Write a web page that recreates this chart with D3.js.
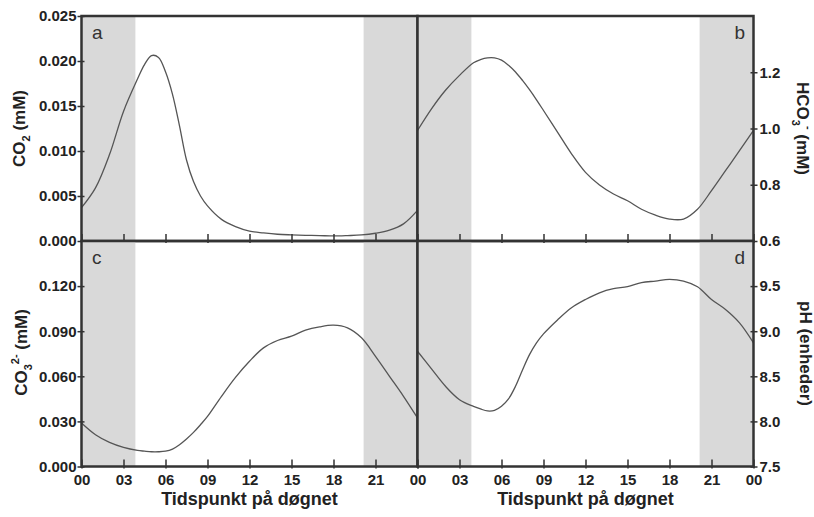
<!DOCTYPE html>
<html>
<head>
<meta charset="utf-8">
<script src="https://cdn.jsdelivr.net/npm/d3@7"></script>
<style>
  body { margin: 0; background: #fff; }
  text { font-family: "Liberation Sans", Arial, sans-serif; }
</style>
</head>
<body>
<svg id="chart" width="814" height="517"></svg>
<script>
// hours of the day the curves were read at
const hours = [0, 1, 2, 3, 4, 4.5, 5, 5.5, 6, 6.5, 7, 7.5, 8, 8.5, 9, 10, 11, 12, 13, 14, 15, 16, 17, 18, 19, 20, 21, 22, 23, 24]

const co2 = [0.0037, 0.0059, 0.0096, 0.0144, 0.0180, 0.0196, 0.0206, 0.0204, 0.0188, 0.0163, 0.0128, 0.0090,
  0.0066, 0.0050, 0.0039, 0.0024, 0.0016, 0.0011, 0.0009, 0.00075, 0.00068, 0.00063, 0.0006, 0.00056,
  0.0006, 0.00067, 0.00086, 0.0012, 0.0019, 0.0034]
const hco3 = [0.993, 1.070, 1.136, 1.189, 1.234, 1.245, 1.251, 1.251, 1.243, 1.225, 1.201, 1.171,
  1.138, 1.102, 1.064, 0.987, 0.910, 0.844, 0.799, 0.767, 0.743, 0.713, 0.692, 0.678,
  0.678, 0.713, 0.779, 0.850, 0.921, 0.993]
const co3 = [0.0289, 0.0211, 0.0160, 0.0127, 0.0107, 0.0102, 0.0098, 0.0098, 0.0102, 0.0116, 0.0145, 0.0183,
  0.0227, 0.0278, 0.0333, 0.0467, 0.0593, 0.0700, 0.0789, 0.0838, 0.0867, 0.0907, 0.0929, 0.0940,
  0.0922, 0.0856, 0.0733, 0.0600, 0.0467, 0.0323]
const ph = [8.778, 8.582, 8.389, 8.241, 8.167, 8.138, 8.116, 8.122, 8.167, 8.249, 8.389, 8.570,
  8.740, 8.870, 8.970, 9.125, 9.260, 9.352, 9.426, 9.471, 9.493, 9.538, 9.556, 9.574,
  9.556, 9.493, 9.352, 9.241, 9.093, 8.871]

// night (dark) periods
const darkBands = [[0, 3.85], [20.15, 24]]

const xTicks = [0, 3, 6, 9, 12, 15, 18, 21, 24]
const co2Ticks = [0, 0.005, 0.010, 0.015, 0.020, 0.025]
const hco3Ticks = [0.6, 0.8, 1.0, 1.2]
const co3Ticks = [0, 0.030, 0.060, 0.090, 0.120]
const phTicks = [7.5, 8.0, 8.5, 9.0, 9.5]

const svg = d3.select('#chart')
const xLeft = 81.5, xMid = 417.5, xRight = 753.5
const yTop = 16, yMid = 241, yBottom = 466.5

const panels = [
  { id: 'a', vals: co2, dom: [0, 0.025], ticks: co2Ticks, fmt: d3.format('.3f'), x0: xLeft, x1: xMid, y0: yTop, y1: yMid, side: 'left', xlab: false },
  { id: 'b', vals: hco3, dom: [0.6, 1.4], ticks: hco3Ticks, fmt: d3.format('.1f'), x0: xMid, x1: xRight, y0: yTop, y1: yMid, side: 'right', xlab: false },
  { id: 'c', vals: co3, dom: [0, 0.15], ticks: co3Ticks, fmt: d3.format('.3f'), x0: xLeft, x1: xMid, y0: yMid, y1: yBottom, side: 'left', xlab: true },
  { id: 'd', vals: ph, dom: [7.5, 10], ticks: phTicks, fmt: d3.format('.1f'), x0: xMid, x1: xRight, y0: yMid, y1: yBottom, side: 'right', xlab: true }
]

panels.forEach(p => {
  const x = d3.scaleLinear().domain([0, 24]).range([p.x0, p.x1])
  const y = d3.scaleLinear().domain(p.dom).range([p.y1, p.y0])
  const g = svg.append('g')

  g.selectAll('rect.band')
    .data(darkBands)
    .enter().append('rect')
    .attr('x', d => x(d[0]))
    .attr('width', d => x(d[1]) - x(d[0]))
    .attr('y', p.y0)
    .attr('height', p.y1 - p.y0)
    .attr('fill', '#d9d9d9')

  const line = d3.line()
    .x((d, i) => x(hours[i]))
    .y(d => y(d))
    .curve(d3.curveCatmullRom.alpha(0.5))

  g.append('path')
    .datum(p.vals)
    .attr('d', line)
    .attr('fill', 'none')
    .attr('stroke', '#555')
    .attr('stroke-width', 1.3)

  // x axis, ticks pointing into the panel
  const isLeft = p.side == 'left'
  const xAxis = d3.axisBottom(x)
    .tickValues(xTicks)
    .tickSizeInner(-7)
    .tickSizeOuter(0)
    .tickPadding(8)
    .tickFormat(d => (!p.xlab || (isLeft && d == 24)) ? '' : d3.format('02d')(d % 24))
  const gx = g.append('g')
    .attr('transform', `translate(0,${p.y1})`)
    .call(xAxis)
  gx.select('.domain').remove()
  gx.selectAll('.tick line').attr('y1', 2).attr('stroke', '#333').attr('stroke-width', 1.5)

  // y axis
  const yAxis = (isLeft ? d3.axisLeft(y) : d3.axisRight(y))
    .tickValues(p.ticks)
    .tickFormat(p.fmt)
    .tickSizeInner(4)
    .tickSizeOuter(0)
    .tickPadding(isLeft ? 1 : 2)
  const gy = g.append('g')
    .attr('transform', `translate(${isLeft ? p.x0 : p.x1},0)`)
    .call(yAxis)
  gy.select('.domain').remove()
  gy.selectAll('.tick line').attr('x1', isLeft ? 3 : -3).attr('stroke', '#333').attr('stroke-width', 1.5)

  g.selectAll('.tick text')
    .attr('font-family', '"Liberation Sans", Arial, sans-serif')
    .attr('font-size', 15)
    .attr('font-weight', 'bold')
    .attr('fill', '#222')

  g.append('rect')
    .attr('x', p.x0).attr('y', p.y0)
    .attr('width', p.x1 - p.x0).attr('height', p.y1 - p.y0)
    .attr('fill', 'none')
    .attr('stroke', '#333')
    .attr('stroke-width', 2.5)

  g.append('text')
    .attr('x', isLeft ? p.x0 + 10.5 : p.x1 - 8.5)
    .attr('y', p.y0 + 23)
    .attr('text-anchor', isLeft ? 'start' : 'end')
    .attr('font-size', 19)
    .attr('fill', '#333')
    .text(p.id)
})

// axis titles
function title(tx, ty, rot, parts) {
  const t = svg.append('text')
    .attr('transform', `translate(${tx},${ty}) rotate(${rot})`)
    .attr('text-anchor', 'middle')
    .attr('font-size', 17)
    .attr('font-weight', 'bold')
    .attr('fill', '#222')
  parts.forEach(pt => {
    t.append('tspan')
      .attr('dy', pt[1])
      .attr('font-size', pt[2] || 17)
      .text(pt[0])
  })
}

title(24.5, 128.5, -90, [['CO', 0], ['2', 5, 11], [' (mM)', -5]])
title(27, 352.5, -90, [['CO', 0], ['3', 5, 11], ['2-', -13, 11], [' (mM)', 8]])
title(797, 128.5, 90, [['HCO', 0], ['3', 5, 11], ['-', -13, 11], [' (mM)', 8]])
title(800, 353.5, 90, [['pH (enheder)', 0]])

svg.selectAll('text.xt')
  .data([(xLeft + xMid) / 2, (xMid + xRight) / 2])
  .enter().append('text')
  .attr('x', d => d)
  .attr('y', 505)
  .attr('text-anchor', 'middle')
  .attr('font-size', 18)
  .attr('font-weight', 'bold')
  .attr('fill', '#222')
  .text('Tidspunkt på døgnet')
</script>
</body>
</html>
